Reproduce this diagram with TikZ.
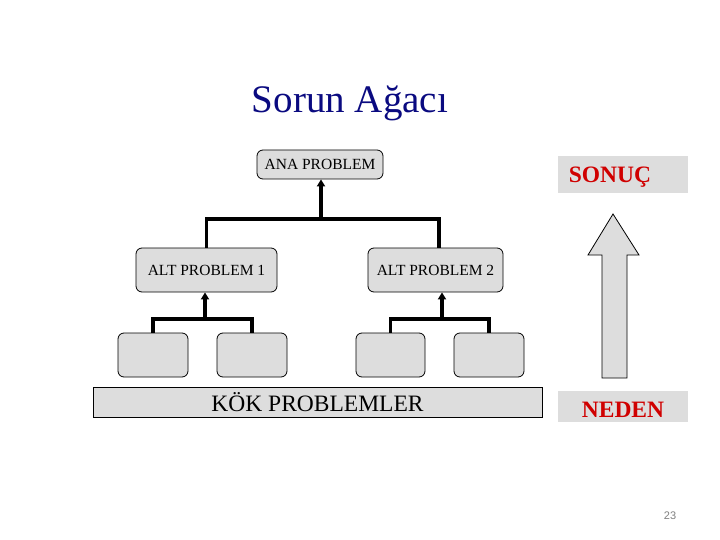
\documentclass[tikz,border=0pt]{standalone}
\usepackage{fontspec}
\setmainfont{Liberation Serif}
\newfontfamily\pnfont{Liberation Sans}
\usetikzlibrary{arrows.meta}
\definecolor{boxgray}{HTML}{DDDDDD}
\definecolor{titleblue}{HTML}{0A0A80}
\definecolor{redtxt}{HTML}{D00000}
\begin{document}
\begin{tikzpicture}[x=1pt,y=-1pt,
  pbox/.style={draw=black, line width=0.8pt, fill=boxgray, rounded corners=6pt, inner sep=0pt,
    font=\fontsize{15.5}{18}\selectfont},
  conn/.style={line width=3.2pt},
  uptip/.style={-{Triangle[width=8pt,length=7pt]}},
  lbl/.style={fill=boxgray, inner sep=0pt, text=redtxt, font=\bfseries\fontsize{23.5}{28}\selectfont}]
\useasboundingbox (0,0) rectangle (720,540);
% title
\node[anchor=base, text=titleblue, font=\fontsize{39}{46}\selectfont] (title) at (350,113) {Sorun Ağacı};
% boxes
\node[pbox, minimum width=126pt, minimum height=29pt] (ana) at (320,164.5) {ANA PROBLEM};
\node[pbox, minimum width=141pt, minimum height=44pt] (alt1) at (206.5,270) {ALT PROBLEM 1};
\node[pbox, minimum width=135pt, minimum height=44pt] (alt2) at (435.5,270) {ALT PROBLEM 2};
\node[pbox, minimum width=70pt, minimum height=44pt] (r1) at (153,355) {};
\node[pbox, minimum width=70pt, minimum height=44pt] (r2) at (252,355) {};
\node[pbox, minimum width=69pt, minimum height=44pt] (r3) at (390.5,355) {};
\node[pbox, minimum width=70pt, minimum height=44pt] (r4) at (489,355) {};
\node[draw=black, line width=0.8pt, fill=boxgray, inner sep=0pt, minimum width=449pt, minimum height=30pt,
  font=\fontsize{23.5}{28}\selectfont] (kok) at (317.5,402) {};
\node[anchor=base, font=\fontsize{23.5}{28}\selectfont] (koktext) at (317.5,411) {KÖK PROBLEMLER};
% connectors
\coordinate (j0) at (321,219);
\coordinate (j1) at (205,319);
\coordinate (j2) at (442,319);
\coordinate (t2) at (439,248);
\draw[conn] (alt1.north) |- (j0) -| (t2);
\draw[conn, uptip] (j0) -- (j0 |- ana.south);
\draw[conn] (r1.north) |- (j1) -| (r2.north);
\draw[conn, uptip] (j1) -- (j1 |- alt1.south);
\draw[conn] (r3.north) |- (j2) -| (r4.north);
\draw[conn, uptip] (j2) -- (j2 |- alt2.south);
% side labels
\node[lbl, minimum width=130pt, minimum height=37pt] (sonuc) at (623,174.5) {};
\node[anchor=base, text=redtxt, font=\bfseries\fontsize{23.5}{28}\selectfont] (sonuctext) at (610,183) {SONUÇ};
\node[lbl, minimum width=130pt, minimum height=31pt] (neden) at (623,406.5) {};
\node[anchor=base, text=redtxt, font=\bfseries\fontsize{23.5}{28}\selectfont] (nedentext) at (623,417) {NEDEN};
% big arrow
\draw[fill=boxgray, line width=0.8pt] (602,378) -- (602,255) -- (588,255) -- (613,214) -- (639,255) -- (627,255) -- (627,378) -- cycle;
% page number
\node[anchor=base, text=gray, font=\pnfont\fontsize{11}{13}\selectfont] (pn) at (670,519) {23};
\end{tikzpicture}
\end{document}
